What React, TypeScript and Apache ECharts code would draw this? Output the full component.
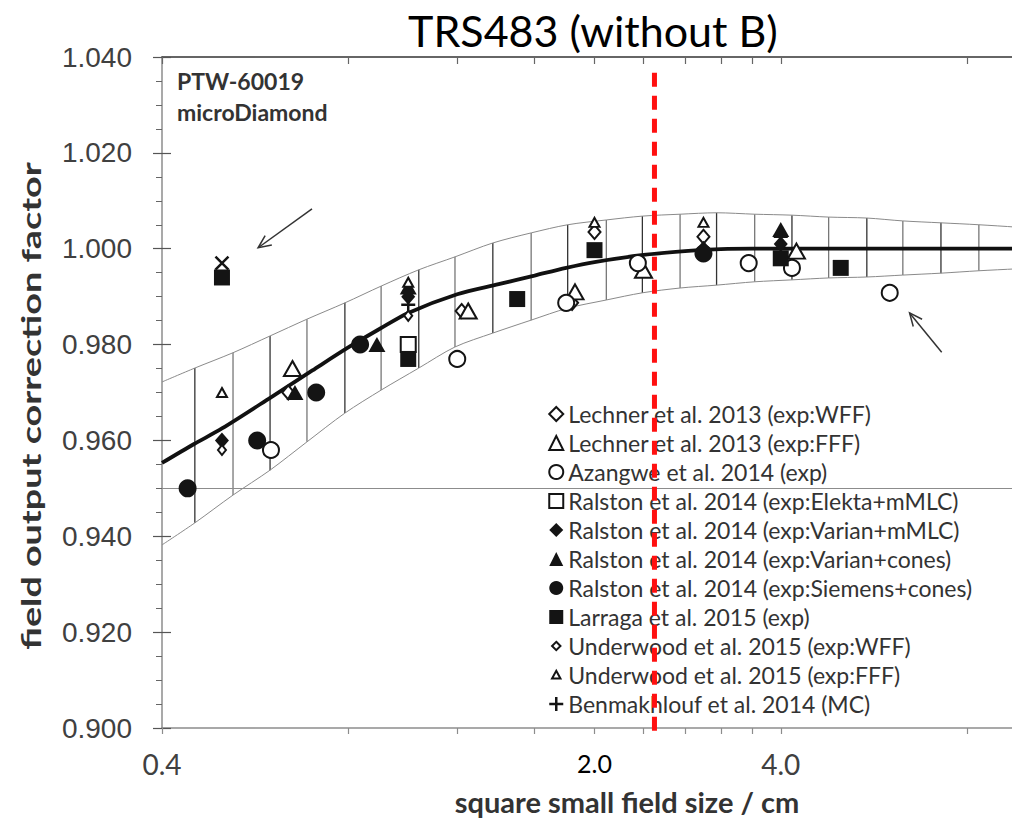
import React, { useEffect, useRef } from "react";
import * as echarts from "echarts";

// ---------- axis ticks ----------
const xTickValues = [0.4, 0.8, 1.2, 1.6, 2.0, 2.4, 2.8, 3.2, 3.6, 4.0, 8.0];
const xLabelValues = [0.4, 2.0, 4.0];
const xMin = 0.4;
const xMax = 10;
const yMin = 0.9;
const yMax = 1.04;
const yStep = 0.02;

// ---------- fit curve ----------
const fitX = [0.4, 0.45, 0.5, 0.6, 0.7, 0.8, 0.9, 1.0, 1.2, 1.4, 1.6, 1.8, 2.0, 2.4, 2.8, 3.2, 3.6, 4.0, 6.0, 10];
const fitY = [0.9553, 0.9592, 0.9625, 0.969, 0.9746, 0.9794, 0.9833, 0.9866, 0.9905, 0.9926, 0.9944, 0.996, 0.9972, 0.9987, 0.9995, 0.9999, 1.0, 1.0, 1.0, 1.0];

// ---------- uncertainty band (hatched) ----------
const bandX = [0.4, 0.452, 0.521, 0.598, 0.686, 0.79, 0.904, 1.04, 1.19, 1.37, 1.58, 1.81, 2.09, 2.39, 2.75, 3.15, 3.63, 4.17, 4.78, 5.51, 6.3, 7.26, 8.36, 9.62, 10];
const bandUpper = [0.9722, 0.9751, 0.9783, 0.9818, 0.9853, 0.9887, 0.9922, 0.9956, 0.9983, 1.0012, 1.0033, 1.005, 1.006, 1.0068, 1.0072, 1.0075, 1.0072, 1.007, 1.0066, 1.0064, 1.0058, 1.0054, 1.005, 1.0045, 1.0043];
const bandLower = [0.9382, 0.9428, 0.9486, 0.9538, 0.9597, 0.9657, 0.9705, 0.9751, 0.9795, 0.9824, 0.9851, 0.9876, 0.9893, 0.9908, 0.9918, 0.9924, 0.9931, 0.9935, 0.9939, 0.9941, 0.9945, 0.9949, 0.9954, 0.9958, 0.9959];

// ---------- measured data ----------
const lechnerWFF = [[0.64, 0.970], [1.22, 0.987], [1.84, 0.9887], [2.0, 1.0035], [3.0, 1.0025]];
const lechnerFFF = [[0.65, 0.975], [1.25, 0.987], [1.86, 0.991], [2.4, 0.9955], [4.24, 0.9995]];
const azangwe = [[0.6, 0.958], [1.2, 0.977], [1.8, 0.9887], [2.35, 0.997], [3.55, 0.997], [4.17, 0.996], [6.0, 0.9908]];
const ralstonElekta = [[1.0, 0.980]];
const ralstonVarianMLC = [[0.5, 0.960], [1.0, 0.990], [3.0, 1.0], [4.0, 1.001]];
const ralstonVarianCones = [[0.656, 0.970], [0.89, 0.980], [1.0, 0.992], [4.0, 1.004]];
const ralstonSiemens = [[0.44, 0.950], [0.57, 0.960], [0.71, 0.970], [0.836, 0.980], [3.0, 0.999]];
const larraga = [[0.5, 0.994], [1.0, 0.977], [1.5, 0.9895], [2.0, 0.9997], [4.0, 0.998], [5.0, 0.996]];
const underwoodWFF = [[0.5, 0.958], [1.0, 0.986]];
const underwoodFFF = [[0.5, 0.970], [1.0, 0.993], [2.0, 1.0055], [3.0, 1.0055]];
const benmakhlouf = [[1.0, 0.9883], [4.0, 1.0025]];
const unlabeledCross = [[0.5, 0.997]];

// ---------- annotations ----------
const referenceLine = [[2.5, 1.0367, 0.8992]];
const arrowSegments = [[0.699, 1.0083, 0.572, 1.0002], [7.28, 0.9784, 6.46, 0.9866]];

const INK = "#141414";
const OUT = { color: "#ffffff", borderColor: INK, borderWidth: 2, opacity: 1 };
const FILL = { color: INK, borderWidth: 0, opacity: 1 };
const PLUS = "path://M0,7L14,7M7,0L7,14";
const CROSS = "path://M0,0L12,12M12,0L0,12";
const SMALL_DIAMOND_ICON = "path://M0,0M20,20M10,4L16,10L10,16L4,10Z";
const SMALL_TRI_ICON = "path://M0,0M20,20M10,4L16,15L4,15Z";

const seriesSpecs = [
  { name: "Lechner et al. 2013 (exp:WFF)", data: lechnerWFF, symbol: "diamond", size: [12, 14], style: OUT, icon: "diamond" },
  { name: "Lechner et al. 2013 (exp:FFF)", data: lechnerFFF, symbol: "triangle", size: [17, 15], style: OUT, icon: "triangle" },
  { name: "Azangwe et al. 2014 (exp)", data: azangwe, symbol: "circle", size: 16, style: OUT, icon: "circle" },
  { name: "Ralston et al. 2014 (exp:Elekta+mMLC)", data: ralstonElekta, symbol: "rect", size: 15, style: OUT, icon: "rect" },
  { name: "Ralston et al. 2014 (exp:Varian+mMLC)", data: ralstonVarianMLC, symbol: "diamond", size: [14, 16], style: FILL, icon: "diamond" },
  { name: "Ralston et al. 2014 (exp:Varian+cones)", data: ralstonVarianCones, symbol: "triangle", size: [17, 15], style: FILL, icon: "triangle" },
  { name: "Ralston et al. 2014 (exp:Siemens+cones)", data: ralstonSiemens, symbol: "circle", size: 18, style: FILL, icon: "circle" },
  { name: "Larraga et al. 2015 (exp)", data: larraga, symbol: "rect", size: 16, style: FILL, icon: "rect" },
  { name: "Underwood et al. 2015 (exp:WFF)", data: underwoodWFF, symbol: "diamond", size: [8, 10], style: OUT, icon: SMALL_DIAMOND_ICON },
  { name: "Underwood et al. 2015 (exp:FFF)", data: underwoodFFF, symbol: "triangle", size: [10, 9], style: OUT, icon: SMALL_TRI_ICON },
  { name: "Benmakhlouf et al. 2014 (MC)", data: benmakhlouf, symbol: PLUS, size: 14, style: { color: INK, borderColor: INK, borderWidth: 2.5, opacity: 1 }, icon: PLUS },
];

function App() {
  const ref = useRef<HTMLDivElement | null>(null);

  useEffect(() => {
    if (!ref.current) return;
    const chart = echarts.init(ref.current, null, { renderer: "svg" });

    const hatchData = bandX.slice(1, -1).map((x, i) => [x, bandLower[i + 1], bandUpper[i + 1]]);

    const scatterSeries = seriesSpecs.map((s) => ({
      name: s.name,
      type: "scatter",
      symbol: s.symbol,
      symbolSize: s.size,
      itemStyle: s.style,
      data: s.data,
      z: 5,
    }));

    const option: any = {
      animation: false,
      backgroundColor: "#ffffff",
      title: {
        text: "TRS483 (without B)",
        left: 403,
        top: 4,
        textStyle: { fontFamily: "Lato", fontSize: 43, fontWeight: "normal", color: "#000" },
      },
      grid: { left: 162, top: 57, width: 865, height: 671, containLabel: false, outerBoundsMode: "none" },
      legend: {
        orient: "vertical",
        left: 543,
        top: 397,
        itemWidth: 14,
        itemHeight: 14,
        itemGap: 5,
        selectedMode: false,
        textStyle: { fontFamily: "Lato", fontSize: 23, color: "#333", lineHeight: 24 },
        data: seriesSpecs.map((s) => ({
          name: s.name,
          icon: s.icon,
          itemStyle: s.style,
        })),
      },
      xAxis: [
        {
          type: "log",
          logBase: 10,
          min: xMin,
          max: xMax,
          position: "bottom",
          axisLine: { lineStyle: { color: "#8c8c8c", width: 1.5 } },
          axisTick: { show: true, inside: false, length: 6, customValues: xTickValues, lineStyle: { color: "#8c8c8c", width: 1.2 } },
          minorTick: { show: false },
          splitLine: { show: false },
          axisLabel: {
            customValues: xLabelValues,
            margin: 22,
            fontFamily: "Lato",
            fontSize: 28,
            color: "#404040",
            formatter: (v: number) => (Math.abs(v - 2) < 1e-9 ? "{b|" + v.toFixed(1) + "}" : v.toFixed(1)),
            rich: { b: { fontFamily: "Lato", fontSize: 25, color: "#000", padding: [0, 0, 6, 0] } },
          },
        },
        {
          type: "log",
          logBase: 10,
          min: xMin,
          max: xMax,
          position: "top",
          axisLine: { lineStyle: { color: "#333", width: 1.5 } },
          axisTick: { show: true, inside: true, length: 7, customValues: xTickValues, lineStyle: { color: "#666", width: 1.2 } },
          axisLabel: { show: false },
          splitLine: { show: false },
        },
      ],
      yAxis: [
        {
          type: "value",
          min: yMin,
          max: yMax,
          interval: yStep,
          axisLine: { show: true, lineStyle: { color: "#8c8c8c", width: 1.5 } },
          axisTick: { show: true, inside: false, length: 9, lineStyle: { color: "#555", width: 1.2 } },
          minorTick: { show: true, splitNumber: 4, length: 6, lineStyle: { color: "#666", width: 1 } },
          splitLine: { show: false },
          axisLabel: {
            margin: 30,
            fontFamily: "Liberation Sans",
            fontSize: 28,
            color: "#404040",
            formatter: (v: number) => v.toFixed(3),
          },
        },
        {
          type: "value",
          min: yMin,
          max: yMax,
          interval: yStep,
          position: "left",
          axisLine: { show: false },
          axisTick: { show: true, inside: true, length: 9, lineStyle: { color: "#555", width: 1.2 } },
          axisLabel: { show: false },
          splitLine: { show: false },
        },
      ],
      graphic: [
        { type: "text", left: 177, top: 69, style: { text: "PTW-60019", font: "bold 23px Lato", fill: "#333" } },
        { type: "text", left: 177, top: 100, style: { text: "microDiamond", font: "bold 23px Lato", fill: "#333" } },
        {
          type: "text",
          x: 627,
          y: 801,
          style: { text: "square small field size / cm", font: "bold 29px Lato", fill: "#333", textAlign: "center", textVerticalAlign: "middle" },
        },
        {
          type: "text",
          x: 31,
          y: 406,
          rotation: Math.PI / 2,
          scaleX: 1.45,
          style: { text: "field output correction factor", font: "bold 26px Lato", fill: "#333", textAlign: "center", textVerticalAlign: "middle" },
        },
      ],
      series: [
        {
          name: "band-lower",
          type: "line",
          data: bandX.map((x, i) => [x, bandLower[i]]),
          showSymbol: false,
          smooth: 0.3,
          lineStyle: { color: "#8a8a8a", width: 1 },
          z: 2,
          silent: true,
          markLine: {
            silent: true,
            symbol: "none",
            label: { show: false },
            lineStyle: { color: "#8c8c8c", width: 1.2, type: "solid" },
            data: [{ yAxis: 0.95 }],
          },
        },
        {
          name: "band-upper",
          type: "line",
          data: bandX.map((x, i) => [x, bandUpper[i]]),
          showSymbol: false,
          smooth: 0.3,
          lineStyle: { color: "#8a8a8a", width: 1 },
          z: 2,
          silent: true,
        },
        {
          name: "hatch",
          type: "custom",
          data: hatchData,
          z: 2,
          silent: true,
          renderItem: (params: any, api: any) => {
            const p1 = api.coord([api.value(0), api.value(1)]);
            const p2 = api.coord([api.value(0), api.value(2)]);
            return {
              type: "line",
              shape: { x1: p1[0], y1: p1[1], x2: p2[0], y2: p2[1] },
              style: { stroke: params.dataIndex % 2 === 0 ? "#333" : "#777", lineWidth: 1.3 },
            };
          },
        },
        {
          name: "fit",
          type: "line",
          data: fitX.map((x, i) => [x, fitY[i]]),
          showSymbol: false,
          smooth: 0.3,
          lineStyle: { color: "#111", width: 3.8 },
          z: 3,
          silent: true,
        },
        ...scatterSeries,
        {
          name: "cross",
          type: "scatter",
          symbol: CROSS,
          symbolSize: 13,
          itemStyle: { color: INK, borderColor: INK, borderWidth: 2.5, opacity: 1 },
          data: unlabeledCross,
          z: 5,
        },
        {
          name: "arrows",
          type: "custom",
          data: arrowSegments,
          z: 6,
          silent: true,
          renderItem: (params: any, api: any) => {
            const a = api.coord([api.value(0), api.value(1)]);
            const b = api.coord([api.value(2), api.value(3)]);
            const ang = Math.atan2(b[1] - a[1], b[0] - a[0]);
            const L = 14;
            const s = 0.42;
            const h1 = [b[0] - L * Math.cos(ang - s), b[1] - L * Math.sin(ang - s)];
            const h2 = [b[0] - L * Math.cos(ang + s), b[1] - L * Math.sin(ang + s)];
            return {
              type: "group",
              children: [
                { type: "line", shape: { x1: a[0], y1: a[1], x2: b[0], y2: b[1] }, style: { stroke: "#333", lineWidth: 1.5 } },
                { type: "polyline", shape: { points: [h1, b, h2] }, style: { stroke: "#333", lineWidth: 1.5, fill: null } },
              ],
            };
          },
        },
        {
          name: "reference",
          type: "custom",
          data: referenceLine,
          z: 10,
          silent: true,
          renderItem: (params: any, api: any) => {
            const p1 = api.coord([api.value(0), api.value(1)]);
            const p2 = api.coord([api.value(0), api.value(2)]);
            return {
              type: "line",
              shape: { x1: p1[0], y1: p1[1], x2: p2[0], y2: p2[1] },
              style: { stroke: "#ff1010", lineWidth: 5, lineDash: [14, 9] },
            };
          },
        },
      ],
    };

    chart.setOption(option);
    return () => {
      chart.dispose();
    };
  }, []);

  return <div ref={ref} style={{ position: "absolute", left: 0, top: 0, width: 1012, height: 818 }} />;
}

export default App;
